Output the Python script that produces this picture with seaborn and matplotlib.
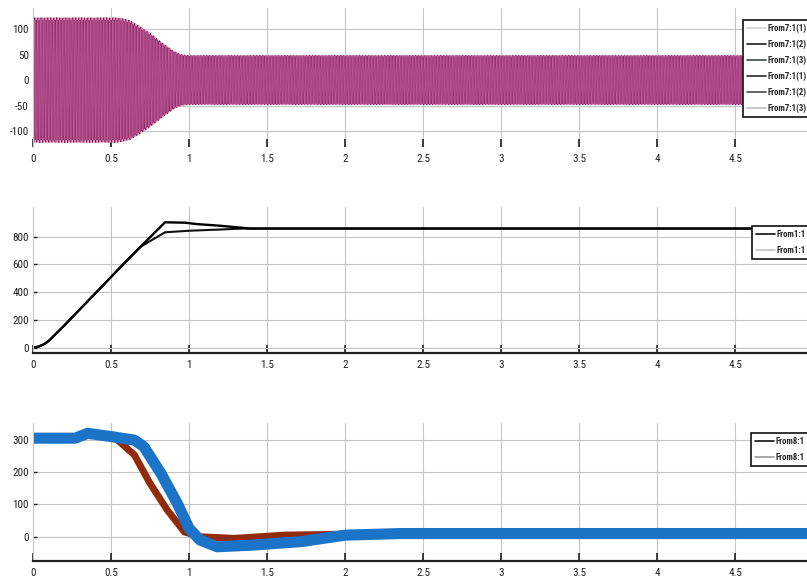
import numpy as np
import pandas as pd
import matplotlib
matplotlib.use("Agg")
import matplotlib.pyplot as plt
from matplotlib import font_manager as fm
import seaborn as sns

# ---------------- data ----------------
x_max = 4.96
x_ticks = [0, 0.5, 1, 1.5, 2, 2.5, 3, 3.5, 4, 4.5]
x_tick_labels = ["0", "0.5", "1", "1.5", "2", "2.5", "3", "3.5", "4", "4.5"]

# panel 1: three-phase currents (envelope)
env_t = [0, 0.55, 0.62, 0.67, 0.75, 0.82, 0.90, 0.95, 1.00, 4.96]
env_amp = [122, 122, 117, 108, 92, 75, 57, 50, 48, 48]
carrier_hz = 50
phase_deg = [0, -120, 120]
set_scale = [1.0, 0.96]
p1_labels = ["From7:1(1)", "From7:1(2)", "From7:1(3)",
             "From7:1(1)", "From7:1(2)", "From7:1(3)"]
p1_yticks = [-100, -50, 0, 50, 100]

# panel 2: speed
speed_t_a = [0, 0.02, 0.04, 0.07, 0.10, 0.20, 0.40, 0.60, 0.846, 0.974, 1.05, 1.20, 1.39, 4.96]
speed_a = [0, 4, 10, 25, 48, 160, 392, 626, 903, 900, 890, 878, 858, 858]
speed_t_b = [0, 0.02, 0.04, 0.07, 0.10, 0.20, 0.40, 0.60, 0.685, 0.846, 1.00, 1.20, 1.35, 4.96]
speed_b = [0, 4, 10, 25, 48, 160, 392, 626, 724, 831, 842, 851, 858, 858]
p2_labels = ["From1:1", "From1:1"]
p2_yticks = [0, 200, 400, 600, 800]

# panel 3: torque
torque_t_red = [0, 0.27, 0.35, 0.50, 0.54, 0.65, 0.75, 0.86, 0.97, 1.07, 1.29, 1.61, 2.00, 2.36, 4.96]
torque_red = [305, 305, 320, 310, 300, 253, 165, 83, 15, 0, -5, 5, 8, 10, 10]
torque_t_blue = [0, 0.27, 0.35, 0.50, 0.65, 0.71, 0.82, 0.925, 1.00, 1.07, 1.18, 1.40, 1.72, 2.00, 2.36, 4.96]
torque_blue = [305, 305, 320, 310, 299, 279, 196, 103, 26, -10, -31, -26, -15, 5, 10, 10]
p3_labels = ["From8:1", "From8:1"]
p3_yticks = [0, 100, 200, 300]

# ---------------- style ----------------
sns.set_theme(style="white")


def pick_font(cands):
    for c in cands:
        try:
            fm.findfont(fm.FontProperties(family=c), fallback_to_default=False)
            return c
        except Exception:
            continue
    return "DejaVu Sans"


narrow = pick_font(["Liberation Sans Narrow", "DejaVu Sans Condensed", "Roboto Condensed",
                    "Open Sans Condensed", "Noto Sans Condensed", "Liberation Sans"])
plt.rcParams["font.family"] = [narrow, "DejaVu Sans"]

W, H = 807, 583
fig = plt.figure(figsize=(W / 100, H / 100), dpi=100)


def px_axes(top, bottom, left=33, right=807):
    return fig.add_axes([left / W, (H - bottom) / H, (right - left) / W, (bottom - top) / H])


ax1 = px_axes(8, 147)
ax2 = px_axes(207, 353)
ax3 = px_axes(423, 561)


def style_axes(ax, yticks, ylim, bottom_spine=True):
    ax.set_xlim(0, x_max)
    ax.set_ylim(*ylim)
    ax.set_xticks(x_ticks)
    ax.set_xticklabels(x_tick_labels)
    ax.set_yticks(yticks)
    ax.set_yticklabels([str(v) for v in yticks])
    ax.grid(True, color="#c4c4c4", linewidth=0.8)
    ax.set_axisbelow(True)
    for s in ["top", "right"]:
        ax.spines[s].set_visible(False)
    ax.spines["left"].set_color("#c8c8c8")
    ax.spines["left"].set_linewidth(0.8)
    if bottom_spine:
        ax.spines["bottom"].set_color("#202020")
        ax.spines["bottom"].set_linewidth(1.6)
    else:
        ax.spines["bottom"].set_visible(False)
    ax.tick_params(axis="x", direction="in", length=6, width=1.2, colors="#202020",
                   labelsize=8, pad=5, bottom=True)
    ax.tick_params(axis="y", direction="in", length=3, width=1.0, colors="#202020",
                   labelsize=8, pad=3, left=True)
    ax.set_xlabel("")
    ax.set_ylabel("")


def make_legend(ax, labels, colors, anchor, spacing):
    leg = ax.legend(labels=labels, loc="upper left", bbox_to_anchor=anchor,
                    frameon=True, fancybox=False, framealpha=1, edgecolor="#111111",
                    fontsize=6.3, borderpad=0.45, labelspacing=spacing, handlelength=2.2,
                    handletextpad=0.15, borderaxespad=0)
    leg.get_frame().set_linewidth(1.2)
    for ln, c in zip(leg.get_lines(), colors):
        ln.set_color(c)
        ln.set_linewidth(1.2)
    for txt in leg.get_texts():
        txt.set_fontweight("bold")
    return leg


# ---------------- panel 1 ----------------
t = np.linspace(0, x_max, 12000)
env = np.interp(t, env_t, env_amp)
p1_colors = ["#f0b4d6", "#6e2050", "#d27ab0", "#8a2f66", "#c0589a", "#a84480"]
k = 0
for sc in set_scale:
    for ph in phase_deg:
        y = sc * env * np.sin(2 * np.pi * carrier_hz * t + np.deg2rad(ph) + 0.3 * (sc < 1))
        df = pd.DataFrame({"t": t, "y": y})
        sns.lineplot(data=df, x="t", y="y", ax=ax1, color=p1_colors[k], linewidth=0.6,
                     estimator=None, sort=False, label=p1_labels[k])
        k += 1
style_axes(ax1, p1_yticks, (-131, 141), bottom_spine=False)
make_legend(ax1, p1_labels,
            ["#cfcfcf", "#1a1a1a", "#3c4a3c", "#2a2a2a", "#4a4a4a", "#bdbdbd"],
            ((743 - 33) / 774, (147 - 20) / 139), 0.75)

# ---------------- panel 2 ----------------
df_a = pd.DataFrame({"t": speed_t_a, "v": speed_a})
df_b = pd.DataFrame({"t": speed_t_b, "v": speed_b})
sns.lineplot(data=df_b, x="t", y="v", ax=ax2, color="#111111", linewidth=1.5,
             estimator=None, sort=False, label=p2_labels[1])
sns.lineplot(data=df_a, x="t", y="v", ax=ax2, color="#000000", linewidth=1.7,
             estimator=None, sort=False, label=p2_labels[0])
style_axes(ax2, p2_yticks, (-38, 1013))
make_legend(ax2, p2_labels, ["#111111", "#c4c4c4"],
            ((752 - 33) / 774, (353 - 226) / 146), 0.8)

# ---------------- panel 3 ----------------
df_r = pd.DataFrame({"t": torque_t_red, "v": torque_red})
df_bl = pd.DataFrame({"t": torque_t_blue, "v": torque_blue})
sns.lineplot(data=df_r, x="t", y="v", ax=ax3, color="#922a0c", linewidth=5,
             estimator=None, sort=False, label=p3_labels[0])
sns.lineplot(data=df_bl, x="t", y="v", ax=ax3, color="#1b74c8", linewidth=8,
             estimator=None, sort=False, label=p3_labels[1])
style_axes(ax3, p3_yticks, (-75, 352))
make_legend(ax3, p3_labels, ["#111111", "#9a9a9a"],
            ((751 - 33) / 774, (561 - 433) / 138), 0.8)

fig.savefig("out.png", dpi=100)
